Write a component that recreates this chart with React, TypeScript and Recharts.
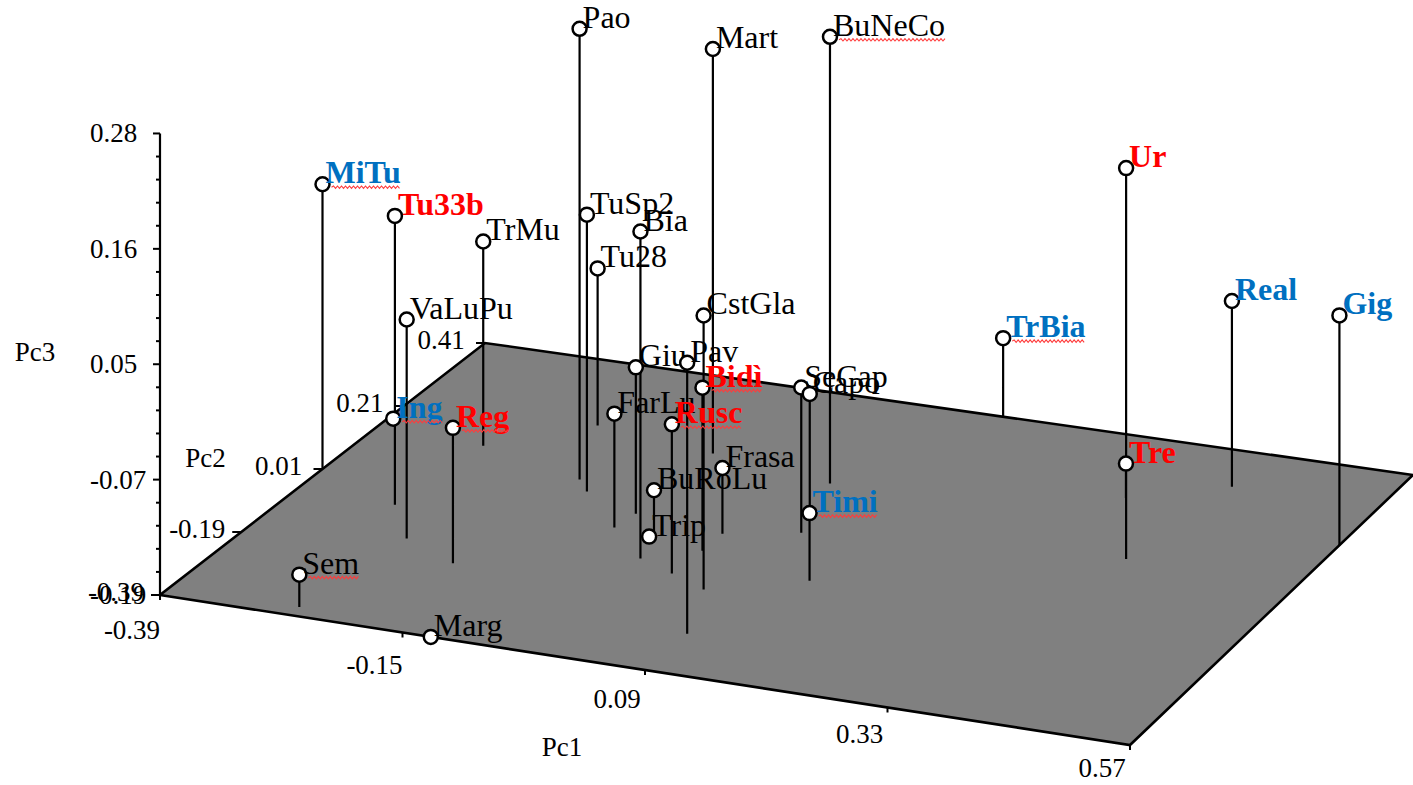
import { Scatter, ScatterChart, XAxis, YAxis } from "recharts";

// Scores of the sites on the first three principal components.
const names = [
  "MiTu", "Tu33b", "TrMu", "VaLuPu", "Ing", "Reg", "Sem", "Marg", "Pao", "TuSp2",
  "Tu28", "Bia", "Giu", "Pav", "CstGla", "Bidì", "Mart", "FarLu", "Rusc", "BuRoLu",
  "Trip", "Frasa", "BuNeCo", "SeCap", "Capo", "Timi", "TrBia", "Ur", "Tre", "Real", "Gig",
];
const pc1 = [
  -0.39, -0.29, -0.278, -0.244, -0.385, -0.179, -0.262, -0.122, -0.159, -0.14,
  -0.201, -0.025, -0.075, 0.09, 0.06, 0.02, -0.071, -0.079, 0.017, -0.039,
  -0.04, 0.02, 0.062, 0.087, 0.074, 0.142, 0.146, 0.395, 0.336, 0.419, 0.57,
];
const pc2 = [
  0.01, -0.056, 0.135, -0.141, 0.172, -0.188, -0.365, -0.39, 0.083, 0.054,
  0.233, -0.101, 0.015, -0.279, -0.157, -0.056, 0.203, -0.03, -0.128, -0.03,
  -0.04, -0.004, 0.169, 0.029, 0.085, -0.093, 0.41, 0.086, 0.244, 0.313, 0.202,
];
const pc3 = [
  0.1, 0.104, 0.018, 0.033, -0.19, -0.052, -0.157, -0.19, 0.269, 0.092,
  -0.03, 0.143, -0.041, 0.086, 0.089, -0.024, 0.222, -0.074, -0.038, -0.146,
  -0.19, -0.123, 0.265, -0.042, -0.069, -0.121, -0.11, 0.208, -0.155, -0.001, 0.044,
];
// b = blue bold, r = red bold, "" = plain
const groups = [
  "b", "r", "", "", "b", "r", "", "", "", "",
  "", "", "", "", "", "r", "", "", "r", "",
  "", "", "", "", "", "b", "b", "r", "r", "b", "b",
];
// labels that carry Word's spell-check squiggle
const flagged = ["MiTu", "Ing", "Reg", "Sem", "BuNeCo", "Bidì", "Rusc", "Timi", "TrBia"];

const pc1Ticks = [-0.39, -0.15, 0.09, 0.33, 0.57];
const pc2Ticks = [-0.39, -0.19, 0.01, 0.21, 0.41];
const pc3Ticks = [-0.19, -0.0725, 0.045, 0.1625, 0.28];
const pc3TickLabels = ["-0.19", "-0.07", "0.05", "0.16", "0.28"];

const W = 1413;
const H = 785;
const SERIF = "'Liberation Serif', 'Times New Roman', serif";
const BLUE = "#0070c0";
const RED = "#ff0000";

const PC1 = [-0.39, 0.57];
const PC2 = [-0.39, 0.41];
const PC3 = [-0.19, 0.28];

// floor corners of the box in view units and the height of one Pc3 unit
const FL = [160, 595];
const FR = [1130, 745];
const BL = [485, 343];
const BR = [1413, 475];
const LIFT = 982;

function project(a: number, b: number, c: number) {
  const u = (a - PC1[0]) / (PC1[1] - PC1[0]);
  const v = (b - PC2[0]) / (PC2[1] - PC2[0]);
  const w00 = (1 - u) * (1 - v), w10 = u * (1 - v), w01 = (1 - u) * v, w11 = u * v;
  const x = w00 * FL[0] + w10 * FR[0] + w01 * BL[0] + w11 * BR[0];
  const y = w00 * FL[1] + w10 * FR[1] + w01 * BL[1] + w11 * BR[1] - (c - PC3[0]) * LIFT;
  return { x, y };
}

let ctx: CanvasRenderingContext2D | null = null;
function textWidth(s: string, font: string) {
  if (!ctx) ctx = document.createElement("canvas").getContext("2d");
  if (!ctx) return s.length * 16;
  ctx.font = font;
  return ctx.measureText(s).width;
}

function squiggle(x0: number, y0: number, w: number) {
  let d = `M${x0},${y0}`;
  for (let i = 1; i * 2 <= w; i++) d += ` L${x0 + i * 2},${y0 + (i % 2 ? -1.2 : 1.2)}`;
  return d;
}

const markers = names.map((name, i) => ({
  ...project(pc1[i], pc2[i], pc3[i]),
  name,
  group: groups[i],
}));

const stems = names.flatMap((_, i) =>
  pc3[i] > PC3[0] + 0.005
    ? [project(pc1[i], pc2[i], pc3[i]), project(pc1[i], pc2[i], PC3[0])]
    : []
);

const floor = [
  project(PC1[0], PC2[0], PC3[0]),
  project(PC1[1], PC2[0], PC3[0]),
  project(PC1[1], PC2[1], PC3[0]),
  project(PC1[0], PC2[1], PC3[0]),
];

const vAxis = [project(PC1[0], PC2[0], PC3[0]), project(PC1[0], PC2[0], PC3[1])];

const pc3Major = pc3Ticks.map((t, i) => ({ ...project(PC1[0], PC2[0], t), label: pc3TickLabels[i], major: true }));
const pc3Minor = pc3Ticks.slice(1).flatMap((t, i) =>
  [1, 2, 3, 4].map((k) => ({
    ...project(PC1[0], PC2[0], pc3Ticks[i] + ((t - pc3Ticks[i]) * k) / 5),
    label: "",
    major: false,
  }))
);
const pc2TickData = pc2Ticks.map((t) => ({ ...project(PC1[0], t, PC3[0]), label: String(t) }));
// labels sit a little closer to the edge toward the near corner
const pc1TickData = pc1Ticks.map((t, i) => ({
  ...project(t, PC2[0], PC3[0]),
  label: String(t),
  dy: 35 - 3 * i,
}));

const titles = [
  { ...project(PC1[0], PC2[0], 0.05), text: "Pc3", dx: -125, dy: -7 },
  { ...project(PC1[0], 0.01, PC3[0]), text: "Pc2", dx: -117, dy: -11 },
  { ...project(0.09, PC2[0], PC3[0]), text: "Pc1", dx: -83, dy: 77 },
];

const none = () => <g />;

const floorLine = (p: any) => {
  const d = p.points.map((q: any, i: number) => `${i ? "L" : "M"}${q.x},${q.y}`).join(" ") + " Z";
  return <path d={d} fill="#808080" stroke="#000" strokeWidth={2.6} strokeLinejoin="miter" />;
};

const pairLine = (p: any) => {
  const pts = p.points;
  let d = "";
  for (let i = 0; i + 1 < pts.length; i += 2) d += `M${pts[i].x},${pts[i].y} L${pts[i + 1].x},${pts[i + 1].y} `;
  return <path d={d} fill="none" stroke="#000" strokeWidth={2.2} />;
};

const tickFont = { fontFamily: SERIF, fontSize: 27, fill: "#000" };

const pc3Tick = (p: any) => (
  <g>
    <line x1={p.cx - (p.payload.major ? 7 : 4)} y1={p.cy} x2={p.cx} y2={p.cy} stroke="#000" strokeWidth={2} />
    {p.payload.label && (
      <text x={p.cx - 70} y={p.cy} dominantBaseline="central" {...tickFont}>
        {p.payload.label}
      </text>
    )}
  </g>
);

const pc2Tick = (p: any) => (
  <g>
    <line x1={p.cx - 9} y1={p.cy} x2={p.cx} y2={p.cy} stroke="#000" strokeWidth={2} />
    <text x={p.cx - 44} y={p.cy - 3} textAnchor="middle" dominantBaseline="central" {...tickFont}>
      {p.payload.label}
    </text>
  </g>
);

const pc1Tick = (p: any) => (
  <g>
    <line x1={p.cx} y1={p.cy} x2={p.cx} y2={p.cy + 5} stroke="#000" strokeWidth={2} />
    <text x={p.cx - 28} y={p.cy + p.payload.dy} textAnchor="middle" dominantBaseline="central" {...tickFont}>
      {p.payload.label}
    </text>
  </g>
);

const title = (p: any) => (
  <text x={p.cx + p.payload.dx} y={p.cy + p.payload.dy} textAnchor="middle" dominantBaseline="central" {...tickFont}>
    {p.payload.text}
  </text>
);

const marker = (p: any) => {
  const { name, group } = p.payload;
  const bold = group !== "";
  const color = group === "b" ? BLUE : group === "r" ? RED : "#000";
  const tx = p.cx + 3;
  const ty = p.cy - 1;
  const w = textWidth(name, `${bold ? "bold " : ""}32px ${SERIF}`);
  return (
    <g>
      <circle cx={p.cx} cy={p.cy} r={7} fill="#fff" stroke="#000" strokeWidth={2.5} />
      <text x={tx} y={ty} fontFamily={SERIF} fontSize={32} fontWeight={bold ? 700 : 400} fill={color}>
        {name}
      </text>
      {flagged.includes(name) && (
        <path d={squiggle(tx + 6, p.cy + 3, w - 6)} fill="none" stroke="#ff3b3b" strokeWidth={1.1} />
      )}
    </g>
  );
};

export default function App() {
  return (
    <div style={{ position: "absolute", left: 0, top: 0, background: "#fff" }}>
      <ScatterChart width={W} height={H} margin={{ top: 0, right: 0, bottom: 0, left: 0 }}>
        <XAxis type="number" dataKey="x" domain={[0, W]} hide allowDataOverflow />
        <YAxis type="number" dataKey="y" domain={[0, H]} reversed hide allowDataOverflow />
        <Scatter data={floor} line={floorLine} shape={none} isAnimationActive={false} />
        <Scatter data={vAxis} line={pairLine} shape={none} isAnimationActive={false} />
        <Scatter data={[...pc3Major, ...pc3Minor]} shape={pc3Tick} isAnimationActive={false} />
        <Scatter data={pc2TickData} shape={pc2Tick} isAnimationActive={false} />
        <Scatter data={pc1TickData} shape={pc1Tick} isAnimationActive={false} />
        <Scatter data={titles} shape={title} isAnimationActive={false} />
        <Scatter data={stems} line={pairLine} shape={none} isAnimationActive={false} />
        <Scatter data={markers} shape={marker} isAnimationActive={false} />
      </ScatterChart>
    </div>
  );
}
